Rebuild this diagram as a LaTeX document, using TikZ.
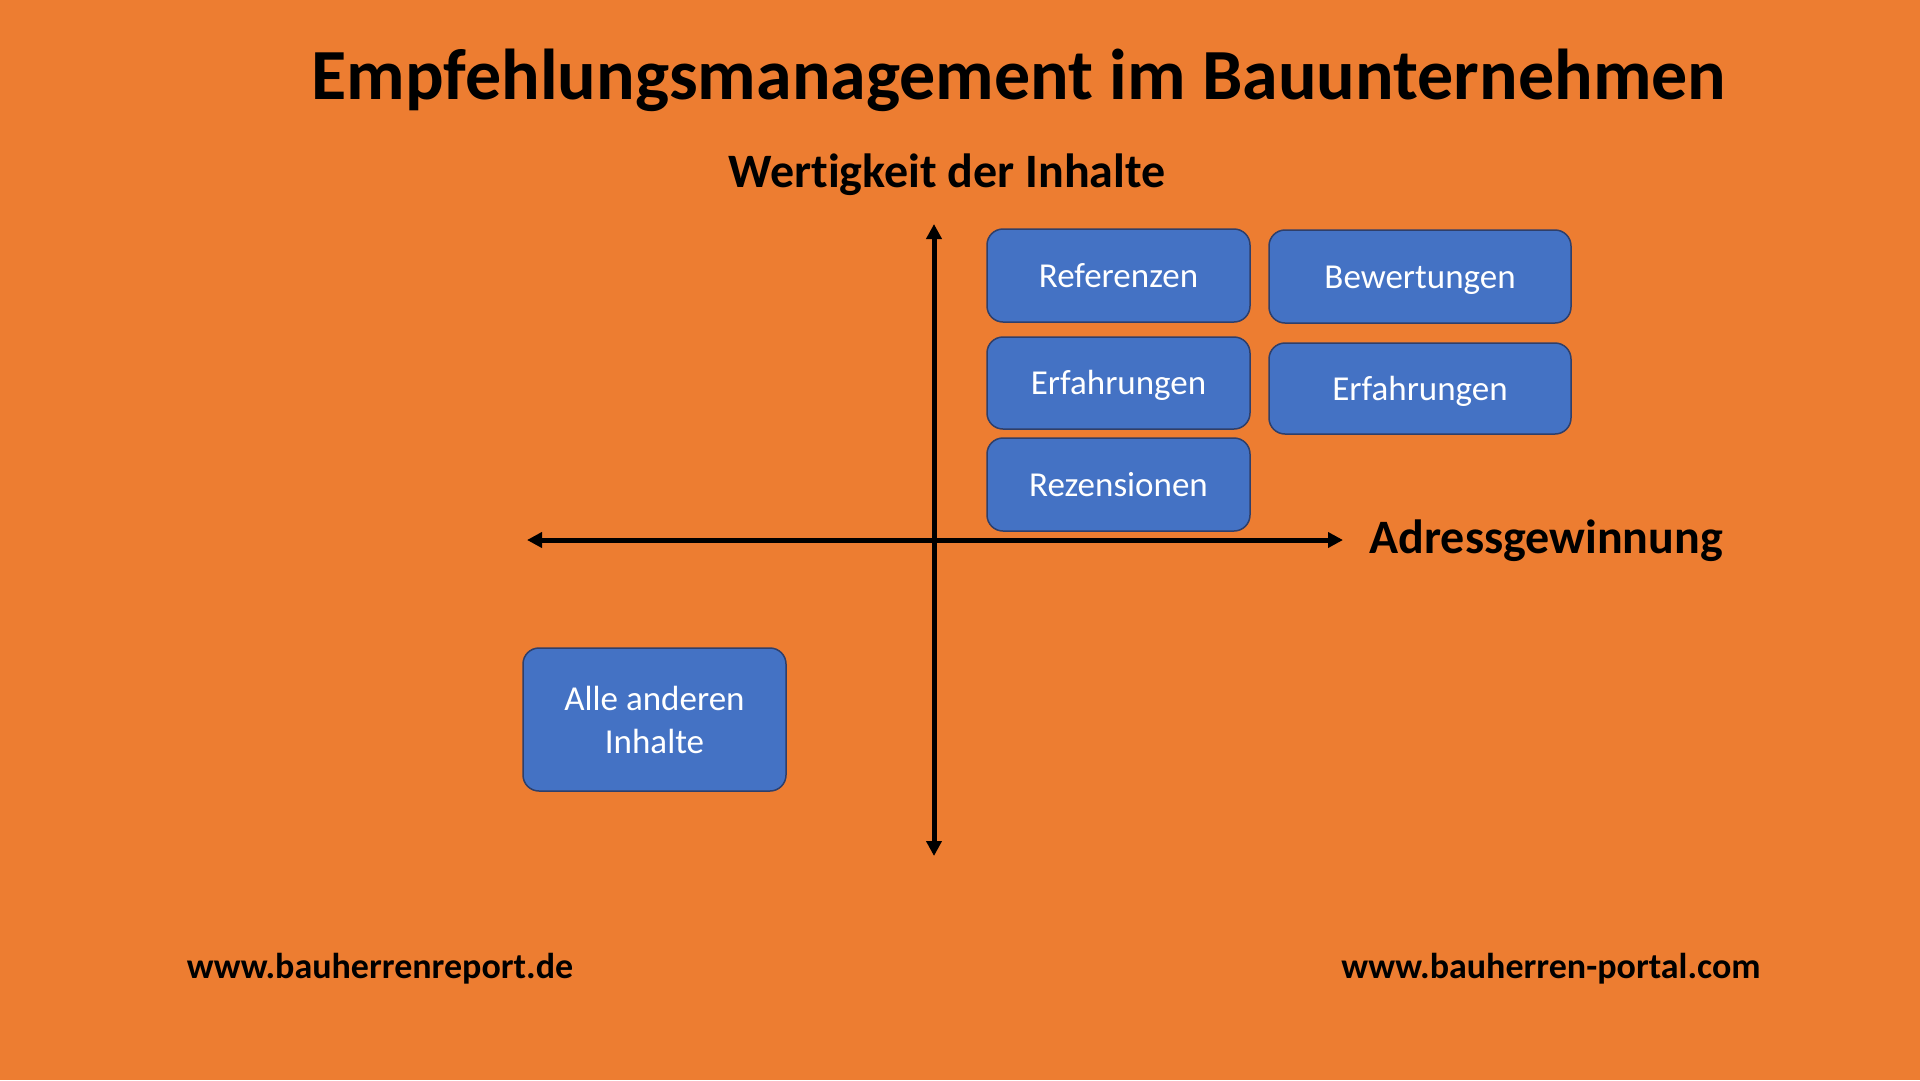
\documentclass[tikz,border=0pt]{standalone}
\usepackage{fontspec}
\setmainfont{Carlito}[Ligatures=NoCommon]
\usetikzlibrary{arrows.meta}
\definecolor{bgorange}{HTML}{ED7D31}
\definecolor{boxblue}{HTML}{4472C4}
\definecolor{boxedge}{HTML}{2F3F6A}
\begin{document}
\begin{tikzpicture}[x=1pt,y=-1pt,
  card/.style={draw=boxedge,line width=1.5pt,fill=boxblue,rounded corners=16pt,text=white,
    font=\fontsize{35}{43}\selectfont,align=center,inner sep=0pt},
  oneline/.style={text height=23pt,text depth=0pt},
  axis/.style={line width=5pt,-{Triangle[length=15pt,width=15pt]}}]
\useasboundingbox (0,0) rectangle (1920,1080);
\fill[bgorange] (0,0) rectangle (1920,1080);
\node[font=\bfseries\fontsize{72}{82}\selectfont] (title) at (1019,80) {Empfehlungsmanagement im Bauunternehmen};
\node[font=\bfseries\fontsize{48}{56}\selectfont] (ylab) at (947,175) {Wertigkeit der Inhalte};
\node[font=\bfseries\fontsize{48}{56}\selectfont,anchor=west] (xlab) at (1366,541) {Adressgewinnung};
\coordinate (c) at (934,540);
\coordinate (top) at (934,224);
\coordinate (bot) at (934,856);
\coordinate (left) at (527,540);
\coordinate (right) at (1343,540);
\draw[axis] (c) -- (top);
\draw[axis] (c) -- (bot);
\draw[axis] (c) -- (left);
\draw[axis] (c) -- (right);
\node[card,oneline,minimum width=263pt,minimum height=93pt] (ref) at (1118.5,275.5) {Referenzen};
\node[card,oneline,minimum width=302pt,minimum height=93pt] (bew) at (1420,276.5) {Bewertungen};
\node[card,oneline,minimum width=263pt,minimum height=92pt] (erf1) at (1118.5,383) {Erfahrungen};
\node[card,oneline,minimum width=302pt,minimum height=91pt] (erf2) at (1420,388.5) {Erfahrungen};
\node[card,oneline,minimum width=263pt,minimum height=93pt] (rez) at (1118.5,484.5) {Rezensionen};
\node[card,minimum width=263pt,minimum height=143pt] (alle) at (654.5,719.5) {Alle anderen\\Inhalte};
\node[font=\bfseries\fontsize{36}{42}\selectfont] (url1) at (380,969) {www.bauherrenreport.de};
\node[font=\bfseries\fontsize{36}{42}\selectfont] (url2) at (1551,969) {www.bauherren-portal.com};
\end{tikzpicture}
\end{document}
